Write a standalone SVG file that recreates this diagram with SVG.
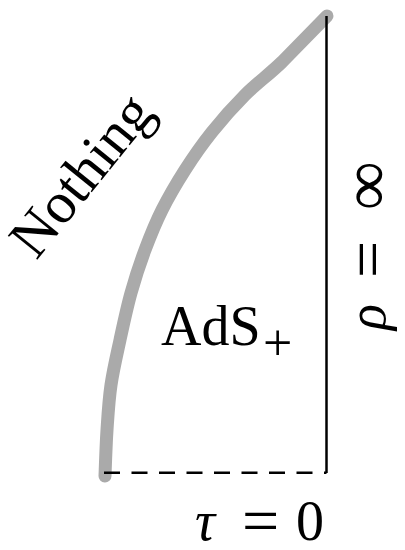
<svg xmlns="http://www.w3.org/2000/svg" width="405" height="550" viewBox="0 0 405 550">
<style>
.lbl{font-family:"Liberation Serif","DejaVu Serif",serif;fill:#000}
.it{font-style:italic}
</style>
<rect width="405" height="550" fill="#fff"/>
<g id="connectors">
<path id="nothing-edge" d="M327,16 L282,62 C268.3,75.2 256.7,83.3 245,95 C233.3,106.7 222,119.5 212,132 C202,144.5 193.3,157 185,170 C176.7,183 168.7,196.7 162,210 C155.3,223.3 150.2,236.2 145,250 C139.8,263.8 135.2,278 131,293 C126.8,308 123.3,324.7 120,340 C116.7,355.3 113.2,370 111,385 C108.8,400 108,414.8 107,430 C106,445.2 105.3,468.3 105,476" fill="none" stroke="#aaaaaa" stroke-width="13" stroke-linecap="round" stroke-linejoin="round"/>
<line id="rho-inf" x1="326.5" y1="16" x2="326.5" y2="473" stroke="#000" stroke-width="2.5"/>
<line id="tau-zero" x1="104" y1="472.7" x2="326.5" y2="472.7" stroke="#000" stroke-width="2.5" stroke-dasharray="16 11.5"/>
</g>
<g id="label-nothing">
<text class="lbl" font-size="58" text-anchor="middle" transform="translate(96,187) rotate(-51)">Nothing</text>
</g>
<g id="label-ads">
<text class="lbl" y="345" font-size="56"><tspan x="161">AdS</tspan><tspan x="263" y="360" font-size="52">+</tspan></text>
</g>
<g id="label-rho">
<text class="lbl" font-size="54" transform="translate(385,250) rotate(-90)"><tspan class="it" x="-80">ρ</tspan><tspan x="-28" dy="5" font-size="66">=</tspan><tspan x="40" dy="-1" font-size="68">∞</tspan></text>
</g>
<g id="label-tau">
<text class="lbl" font-size="56" y="540"><tspan class="it" x="195">τ</tspan><tspan x="242" y="543" font-size="66">=</tspan><tspan x="296" y="540">0</tspan></text>
</g>
</svg>
